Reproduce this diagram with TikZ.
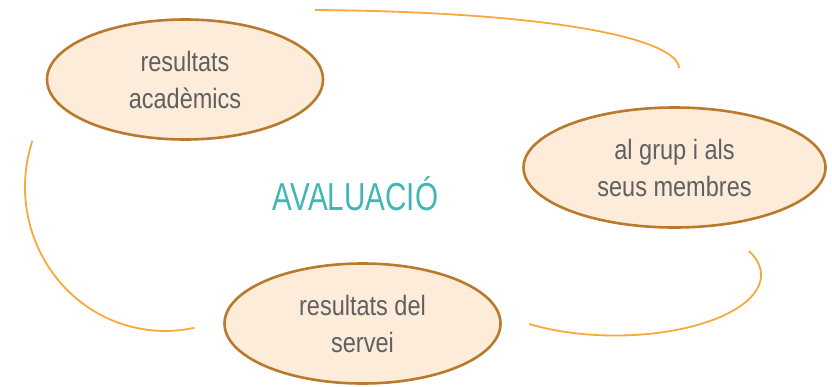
\documentclass[tikz,border=0pt]{standalone}
\usepackage{fontspec}
\setmainfont{Liberation Sans}[FakeStretch=0.84]
\newfontfamily\titlefont{Liberation Sans}[FakeStretch=0.76]
\usetikzlibrary{shapes.geometric}
\definecolor{white}{RGB}{255,255,255}
\definecolor{text_gray}{RGB}{96,96,96}
\definecolor{teal_title}{RGB}{66,182,178}
\definecolor{bubble_fill}{RGB}{253,236,217}
\definecolor{bubble_line}{RGB}{186,122,46}
\definecolor{arc_orange}{RGB}{249,168,60}

\begin{document}
\begin{tikzpicture}[x=1pt,y=-1pt,
	bubble/.style={ellipse,draw=bubble_line,fill=bubble_fill,line width=2.6pt,inner sep=0pt,
		minimum height=120pt,align=center,text=text_gray,font=\fontsize{28}{37}\selectfont},
	loop/.style={draw=arc_orange,line width=1.8pt}]
	\useasboundingbox[fill=white] (0,0) rectangle (832,386);

	\node[bubble,minimum width=276pt] (academics) at (185,79.5) {resultats\\acadèmics};
	\node[bubble,minimum width=302pt] (grup) at (674.5,167.5) {al grup i als\\seus membres};
	\node[bubble,minimum width=276pt] (servei) at (362.5,323.5) {resultats del\\servei};
	\node[text=teal_title,font=\titlefont\fontsize{39}{39}\selectfont,anchor=base] (avaluacio) at (355.5,210) {AVALUACIÓ};

	% free ends of the three loop pieces
	\coordinate (topstart) at (315,10);
	\coordinate (topend) at (679,68);
	\coordinate (leftstart) at (32.4,140.8);
	\coordinate (rightstart) at (749,251);

	\path[loop] (topstart) .. controls (560,12) and (678,40) .. (topend);
	\path[loop] (leftstart) arc[start angle=198.7,end angle=78,x radius=140,y radius=144];
	\path[loop] (rightstart) arc[start angle=-23.4,end angle=126,x radius=146,y radius=60.5];
\end{tikzpicture}
\end{document}
